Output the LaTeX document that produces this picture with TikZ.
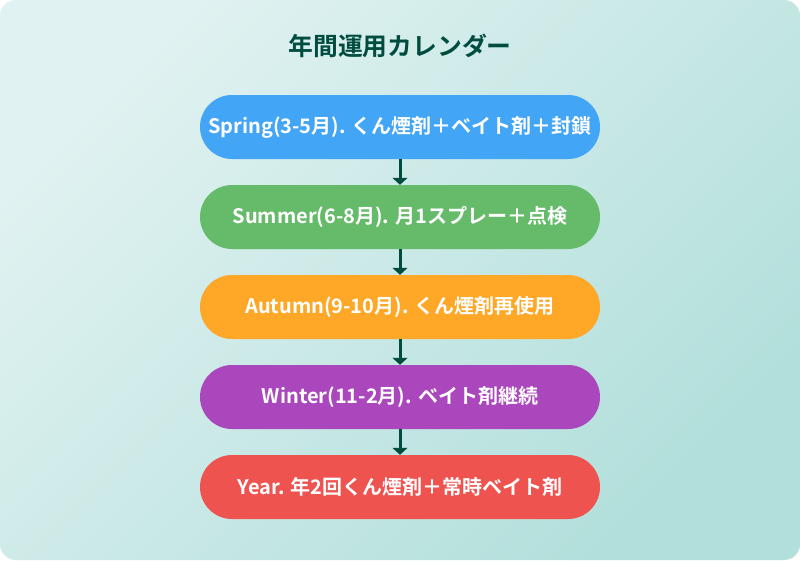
\documentclass[tikz,border=0pt]{standalone}
\usepackage{fontspec}
\setmainfont{Noto Sans CJK JP}[BoldFont={* Bold}]
\usepackage{xcolor}
\usetikzlibrary{arrows.meta}

\definecolor{bgA}{HTML}{E0F2F1}
\definecolor{bgB}{HTML}{B2DFDB}
\definecolor{titlegreen}{HTML}{004D40}
\definecolor{springblue}{HTML}{42A5F5}
\definecolor{summergreen}{HTML}{66BB6A}
\definecolor{autumnorange}{HTML}{FFA726}
\definecolor{winterpurple}{HTML}{AB47BC}
\definecolor{yearred}{HTML}{EF5350}

\tikzset{
	season/.style={rounded corners=32pt, minimum width=400pt, minimum height=64pt,
		inner sep=0pt, text=white, font=\fontsize{20}{22}\selectfont\bfseries},
	flow/.style={-{Triangle[width=15pt,length=7pt]}, line width=3pt, color=titlegreen}
}

\begin{document}
\begin{tikzpicture}[x=1pt, y=-1pt]

\useasboundingbox (0,0) rectangle (800,560);
\shade[rounded corners=16pt, top color=bgA, bottom color=bgB, shading angle=45] (0,0) rectangle (800,560);

\node[text=titlegreen, font=\fontsize{24.8}{27}\selectfont\bfseries] (title) at (400,46) {年間運用カレンダー};

\node[season, fill=springblue] (spring) at (400,127) {Spring(3-5月). くん煙剤＋ベイト剤＋封鎖};
\node[season, fill=summergreen] (summer) at (400,217) {Summer(6-8月). 月1スプレー＋点検};
\node[season, fill=autumnorange] (autumn) at (400,307) {Autumn(9-10月). くん煙剤再使用};
\node[season, fill=winterpurple] (winter) at (400,397) {Winter(11-2月). ベイト剤継続};
\node[season, fill=yearred] (year) at (400,487) {Year. 年2回くん煙剤＋常時ベイト剤};

\foreach \a/\b in {spring/summer, summer/autumn, autumn/winter, winter/year}
	{
		\draw[flow] (\a) -- (\b);
	}

\end{tikzpicture}
\end{document}
